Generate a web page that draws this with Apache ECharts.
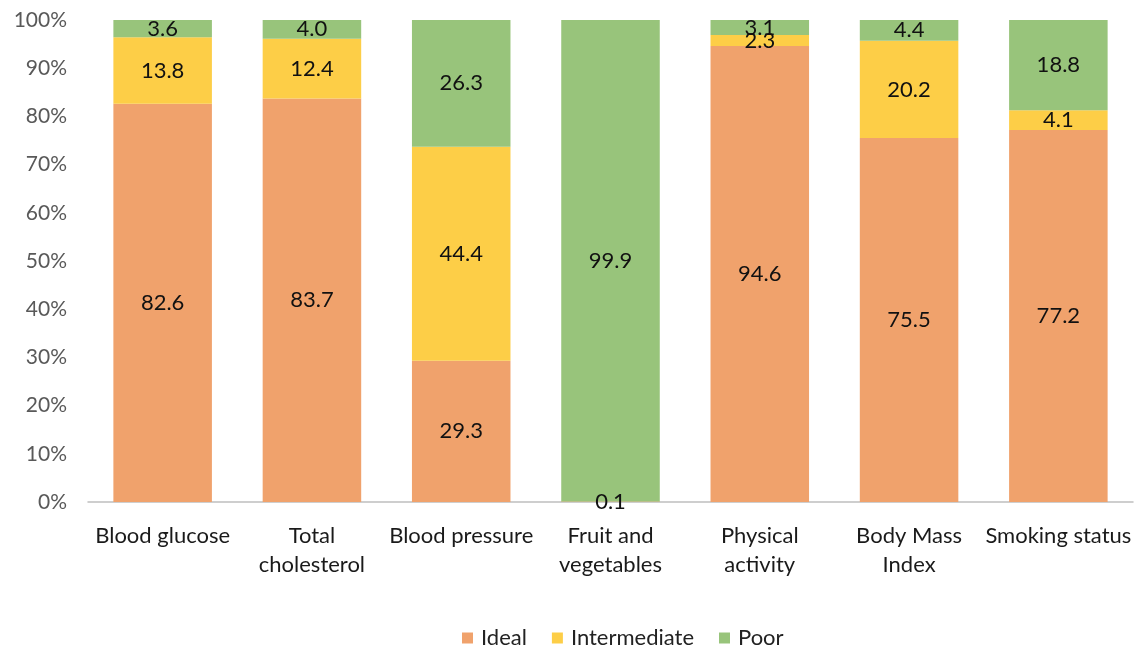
<!DOCTYPE html>
<html>
<head>
<meta charset="utf-8">
<script src="https://cdn.jsdelivr.net/npm/echarts@6/dist/echarts.min.js"></script>
<style>
  html, body { margin: 0; padding: 0; background: #ffffff; }
  #chart { width: 1140px; height: 649px; }
</style>
</head>
<body>
<div id="chart"></div>
<script>
// Cardiovascular health metrics: share of ideal / intermediate / poor (%)
const categories = [
  'Blood glucose',
  'Total\ncholesterol',
  'Blood pressure',
  'Fruit and\nvegetables',
  'Physical\nactivity',
  'Body Mass\nIndex',
  'Smoking status'
];
const ideal        = [82.6, 83.7, 29.3, 0.1, 94.6, 75.5, 77.2];
const intermediate = [13.8, 12.4, 44.4, null, 2.3, 20.2, 4.1];
const poor         = [3.6, 4.0, 26.3, 99.9, 3.1, 4.4, 18.8];
const seriesNames  = ['Ideal', 'Intermediate', 'Poor'];
const colors       = ['#F0A26C', '#FDCE47', '#98C47B'];

const FONT = 'Lato, "Open Sans", sans-serif';

function stackSeries(name, data, color) {
  return {
    name: name,
    type: 'bar',
    stack: 'total',
    data: data,
    barCategoryGap: '34%',
    itemStyle: { color: color },
    label: {
      show: true,
      position: 'inside',
      color: '#111',
      fontFamily: FONT,
      fontSize: 22,
      formatter: p => (p.value == null ? '' : Number(p.value).toFixed(1))
    }
  };
}

const chart = echarts.init(document.getElementById('chart'), null, { renderer: 'canvas' });
chart.setOption({
  animation: false,
  backgroundColor: '#ffffff',
  color: colors,
  grid: { left: 88, right: 7, top: 20, bottom: 147 },
  legend: {
    data: seriesNames,
    left: 457,
    top: 622,
    icon: 'rect',
    itemWidth: 11,
    itemHeight: 11,
    itemGap: 25,
    textStyle: { fontFamily: FONT, fontSize: 22, color: '#222', padding: [0, 0, 0, 3] }
  },
  xAxis: {
    type: 'category',
    data: categories,
    axisLine: { show: true, lineStyle: { color: '#BFBFBF', width: 1.5 } },
    axisTick: { show: false },
    axisLabel: {
      interval: 0,
      margin: 19,
      fontFamily: FONT,
      fontSize: 22,
      color: '#1a1a1a',
      lineHeight: 29
    }
  },
  yAxis: {
    type: 'value',
    min: 0,
    max: 100,
    interval: 10,
    axisLine: { show: false },
    axisTick: { show: false },
    splitLine: { show: false },
    axisLabel: {
      margin: 21,
      fontFamily: FONT,
      fontSize: 21,
      color: '#595959',
      formatter: v => v + '%'
    }
  },
  series: [
    stackSeries(seriesNames[0], ideal, colors[0]),
    stackSeries(seriesNames[1], intermediate, colors[1]),
    stackSeries(seriesNames[2], poor, colors[2])
  ]
});
</script>
</body>
</html>
